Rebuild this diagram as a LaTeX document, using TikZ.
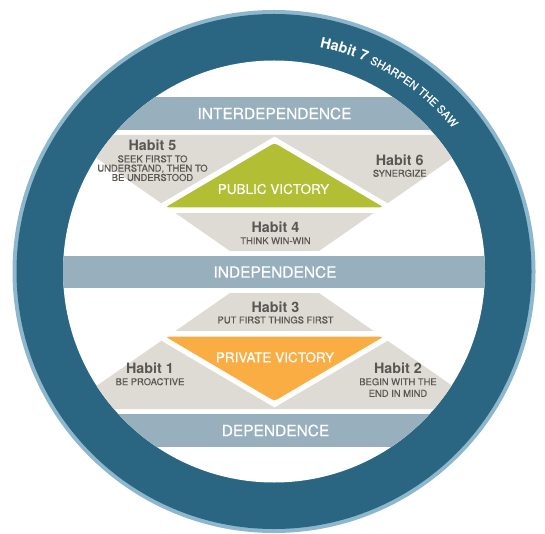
\documentclass[tikz,border=0pt]{standalone}
\usepackage{fontspec}
\setmainfont{TeX Gyre Heros}
\newfontfamily\medfont{TeX Gyre Heros}[FakeBold=0.45]
\usetikzlibrary{decorations.text}
\definecolor{ringdark}{HTML}{2A6682}
\definecolor{ringlight}{HTML}{8DB7CC}
\definecolor{bandblue}{HTML}{98AFBD}
\definecolor{habitgray}{HTML}{DEDAD4}
\definecolor{pubgreen}{HTML}{B2BE34}
\definecolor{privorange}{HTML}{F9AD42}
\definecolor{txtgray}{HTML}{5A5653}
\begin{document}
\begin{tikzpicture}[x=1pt,y=1pt,
  bandlabel/.style={text=white, font=\medfont\fontsize{15.5}{15.5}\selectfont, inner sep=0pt},
  victory/.style={text=white, font=\medfont\fontsize{13.5}{13.5}\selectfont, inner sep=0pt},
  habithead/.style={text=txtgray, font=\bfseries\fontsize{14.3}{14.3}\selectfont, inner sep=0pt},
  habitdesc/.style={text=txtgray, font=\medfont\fontsize{9.4}{9.3}\selectfont, inner sep=0pt, align=center},
  habitdescwide/.style={habitdesc, font=\medfont\fontsize{9.4}{11.6}\selectfont},
  gapline/.style={draw=white, line width=11pt, line join=miter},
]
\useasboundingbox (0,0) rectangle (545,533);
\coordinate (C) at (274,261.5);
% ring
\fill[ringlight] (C) circle[radius=261.5];
\fill[ringdark] (C) circle[radius=257.5];
\fill[white] (C) circle[radius=211];
\begin{scope}
  \clip (C) circle[radius=211];
  % bands
  \fill[bandblue] (0,403) rectangle (545,436);
  \fill[bandblue] (0,244.8) rectangle (545,277.2);
  \fill[bandblue] (0,86) rectangle (545,119);
  % gray trapezoids
  \fill[habitgray] (230,282) -- (319,282) -- (485.6,398) -- (63.4,398) -- cycle;
  \fill[habitgray] (230,240) -- (319,240) -- (485.6,124) -- (63.4,124) -- cycle;
\end{scope}
% white stripes
\fill[white] (130,319.7) rectangle (420,325.5);
\fill[white] (130,196.5) rectangle (420,202.3);
% public victory triangle
\draw[gapline] (165.5,325.7) -- (383.5,325.7) -- (274.5,390) -- cycle;
\fill[pubgreen, rounded corners=3pt] (165.5,325.7) -- (383.5,325.7) -- (274.5,390) -- cycle;
% private victory triangle
\draw[gapline] (165.5,196.3) -- (383.5,196.3) -- (274.5,132) -- cycle;
\fill[privorange, rounded corners=3pt] (165.5,196.3) -- (383.5,196.3) -- (274.5,132) -- cycle;
% band labels
\node[bandlabel] (inter) at (274.5,419.5) {INTERDEPENDENCE};
\node[bandlabel] (indep) at (275,261) {INDEPENDENCE};
\node[bandlabel] (dep) at (275.5,102.5) {DEPENDENCE};
% victories
\node[victory] (pub) at (273.5,344) {PUBLIC VICTORY};
\node[victory] (priv) at (275,175.7) {PRIVATE VICTORY};
% habits
\node[habithead] (h5) at (152.5,388) {Habit 5};
\node[habitdesc] (h5d) at (152.5,364.8) {SEEK FIRST TO\\UNDERSTAND, THEN TO\\BE UNDERSTOOD};
\node[habithead] (h6) at (399.7,372.3) {Habit 6};
\node[habitdesc] (h6d) at (399.7,359.7) {SYNERGIZE};
\node[habithead] (h4) at (275.5,305.3) {Habit 4};
\node[habitdesc] (h4d) at (275.5,292.3) {THINK WIN-WIN};
\node[habithead] (h3) at (275.5,225.7) {Habit 3};
\node[habitdesc] (h3d) at (275.5,213) {PUT FIRST THINGS FIRST};
\node[habithead] (h1) at (150,164.7) {Habit 1};
\node[habitdesc] (h1d) at (150,151.3) {BE PROACTIVE};
\node[habithead] (h2) at (398,164.7) {Habit 2};
\node[habitdescwide] (h2d) at (398,145.5) {BEGIN WITH THE\\END IN MIND};
% habit 7 along the ring
\path[decorate, decoration={text along path, text align=left, text color=white,
  text={|\bfseries\fontsize{14.5}{14.5}\selectfont|Habit 7 |\medfont\fontsize{11}{11}\selectfont|SHARPEN THE SAW}}]
  ([shift={(78.5:229)}]C) arc[start angle=78.5, end angle=30, radius=229];
\end{tikzpicture}
\end{document}
